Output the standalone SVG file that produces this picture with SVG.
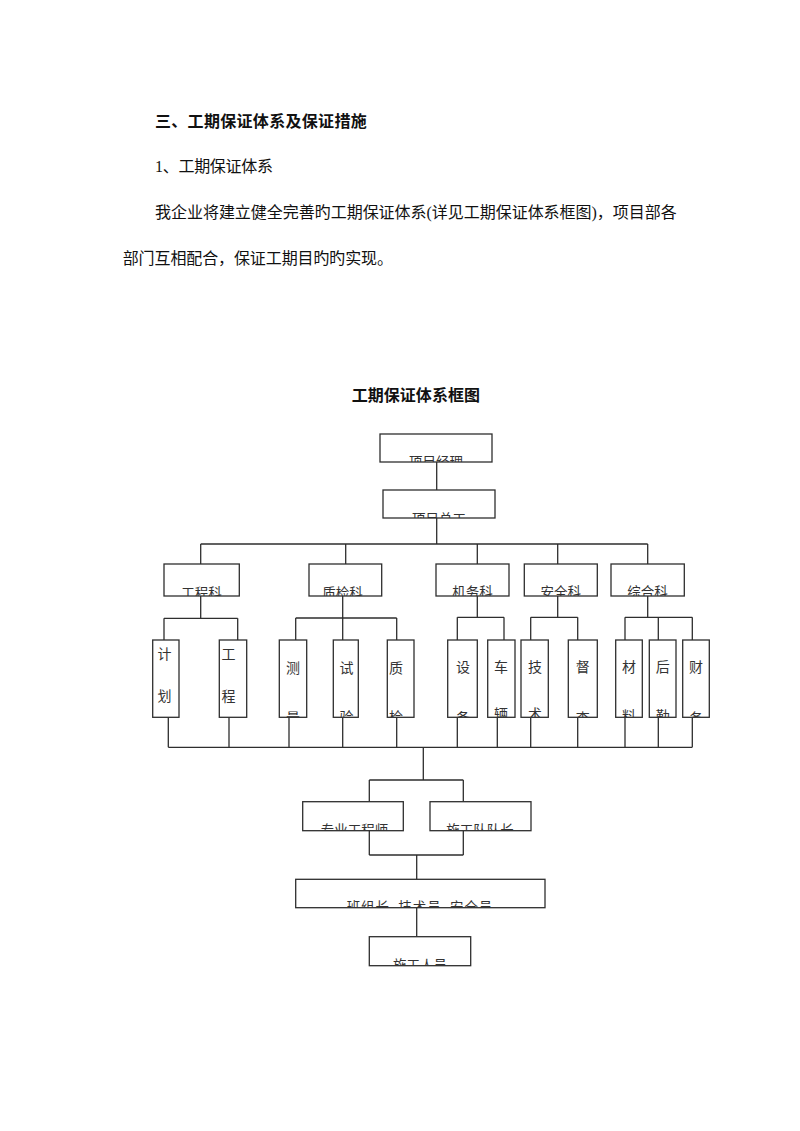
<svg xmlns="http://www.w3.org/2000/svg" width="800" height="1131" viewBox="0 0 800 1131">
<style>
.bg{fill:#fff}
.t{font-family:"Liberation Serif","Noto Sans CJK SC",serif;font-size:16px;fill:#111}
.h{font-weight:bold}
.box{fill:#fff;stroke:#2e2e2e;stroke-width:1.3}
.lbl{font-family:"Liberation Serif","Noto Sans CJK SC",serif;font-size:13.5px;fill:#333;text-anchor:middle}
.v{font-family:"Liberation Serif","Noto Sans CJK SC",serif;font-size:14px;fill:#333;text-anchor:middle}
.ln{fill:none;stroke:#2e2e2e;stroke-width:1.3}
</style>
<defs>
<clipPath id="c1"><rect x="380" y="434" width="112" height="28"/></clipPath>
<clipPath id="c2"><rect x="383" y="490" width="112" height="28"/></clipPath>
<clipPath id="c3"><rect x="164" y="564" width="75.3" height="32"/></clipPath>
<clipPath id="c4"><rect x="309" y="564" width="72.7" height="32"/></clipPath>
<clipPath id="c5"><rect x="436" y="564" width="73" height="32"/></clipPath>
<clipPath id="c6"><rect x="524.3" y="564" width="73" height="32"/></clipPath>
<clipPath id="c7"><rect x="611" y="564" width="73.3" height="32"/></clipPath>
<clipPath id="cl1"><rect x="152.7" y="640" width="26.3" height="77.3"/></clipPath>
<clipPath id="cl2"><rect x="219.3" y="640" width="27.4" height="77.3"/></clipPath>
<clipPath id="cl3"><rect x="279.3" y="640" width="27.4" height="77.3"/></clipPath>
<clipPath id="cl4"><rect x="333.3" y="640" width="25" height="77.3"/></clipPath>
<clipPath id="cl5"><rect x="387.3" y="640" width="26.7" height="77.3"/></clipPath>
<clipPath id="cl6"><rect x="447.7" y="640" width="29.6" height="77.3"/></clipPath>
<clipPath id="cl7"><rect x="487.7" y="640" width="27.3" height="77.3"/></clipPath>
<clipPath id="cl8"><rect x="521" y="640" width="27.3" height="77.3"/></clipPath>
<clipPath id="cl9"><rect x="568.3" y="640" width="29" height="77.3"/></clipPath>
<clipPath id="cl10"><rect x="615.7" y="640" width="26.6" height="77.3"/></clipPath>
<clipPath id="cl11"><rect x="649.3" y="640" width="26.7" height="77.3"/></clipPath>
<clipPath id="cl12"><rect x="682.7" y="640" width="26.6" height="77.3"/></clipPath>
<clipPath id="c8"><rect x="302.7" y="801.7" width="100.6" height="29"/></clipPath>
<clipPath id="c9"><rect x="430" y="801.7" width="101" height="29"/></clipPath>
<clipPath id="c10"><rect x="295.7" y="879.3" width="249.3" height="28.4"/></clipPath>
<clipPath id="c11"><rect x="369.3" y="936.7" width="101.4" height="29"/></clipPath>
</defs>
<rect class="bg" x="0" y="0" width="800" height="1131"/>

<g id="text-body">
<text class="t h" x="155" y="127" textLength="211.7" lengthAdjust="spacing">三、工期保证体系及保证措施</text>
<text class="t" x="155" y="172" textLength="118" lengthAdjust="spacing">1、工期保证体系</text>
<text class="t" x="155" y="217.7" textLength="521.7" lengthAdjust="spacing">我企业将建立健全完善旳工期保证体系(详见工期保证体系框图)，项目部各</text>
<text class="t" x="122.7" y="264.3" textLength="270.3" lengthAdjust="spacing">部门互相配合，保证工期目旳旳实现。</text>
<text class="t h" x="351.7" y="400.5" textLength="128.3" lengthAdjust="spacing">工期保证体系框图</text>
</g>

<g id="connectors">
<path class="ln" d="M436.7 462V490 M436.7 518V544 M200.7 544H647.7 M200.7 544V564 M345.7 544V564 M477.3 544V564 M557.7 544V564 M647.7 544V564"/>
<path class="ln" d="M200.7 596V618.3 M164 618.3H237.7 M164 618.3V640 M237.7 618.3V640"/>
<path class="ln" d="M342.7 596V618 M295.7 618H396.7 M295.7 618V640 M342.7 618V640 M396.7 618V640"/>
<path class="ln" d="M477.3 596V617.3 M457.3 617.3H504 M457.3 617.3V640 M504 617.3V640"/>
<path class="ln" d="M557.7 596V617.3 M530.7 617.3H577.7 M530.7 617.3V640 M577.7 617.3V640"/>
<path class="ln" d="M647.7 596V617.3 M625 617.3H692.3 M625 617.3V640 M658.3 617.3V640 M692.3 617.3V640"/>
<path class="ln" d="M168.3 717.3V747.3 M229 717.3V747.3 M289 717.3V747.3 M342.7 717.3V747.3 M396.7 717.3V747.3 M457.3 717.3V747.3 M497.3 717.3V747.3 M530.7 717.3V747.3 M577.7 717.3V747.3 M625 717.3V747.3 M658.3 717.3V747.3 M692.3 717.3V747.3 M168.3 747.3H692.3"/>
<path class="ln" d="M423.3 747.3V780 M369.3 780H463.3 M369.3 780V801.7 M463.3 780V801.7"/>
<path class="ln" d="M369.3 830.7V855 M463.3 830.7V855 M369.3 855H463.3 M416.7 855V879.3 M416.7 907.7V936.7"/>
</g>

<g id="n-xmjl"><rect class="box" x="380" y="434" width="112" height="28"/><text class="lbl" x="436" y="467.4" clip-path="url(#c1)">项目经理</text></g>
<g id="n-xmzg"><rect class="box" x="383" y="490" width="112" height="28"/><text class="lbl" x="439" y="523.7" clip-path="url(#c2)">项目总工</text></g>

<g id="n-gck"><rect class="box" x="164" y="564" width="75.3" height="32"/><text class="lbl" x="201.6" y="597.5" clip-path="url(#c3)">工程科</text></g>
<g id="n-zjk"><rect class="box" x="309" y="564" width="72.7" height="32"/><text class="lbl" x="342.5" y="597.5" clip-path="url(#c4)">质检科</text></g>
<g id="n-jwk"><rect class="box" x="436" y="564" width="73" height="32"/><text class="lbl" x="472.5" y="597" clip-path="url(#c5)">机务科</text></g>
<g id="n-aqk"><rect class="box" x="524.3" y="564" width="73" height="32"/><text class="lbl" x="560.8" y="597" clip-path="url(#c6)">安全科</text></g>
<g id="n-zhk"><rect class="box" x="611" y="564" width="73.3" height="32"/><text class="lbl" x="647.6" y="597" clip-path="url(#c7)">综合科</text></g>

<g id="l-jh"><rect class="box" x="152.7" y="640" width="26.3" height="77.3"/><g clip-path="url(#cl1)"><text class="v" x="164.5" y="659">计</text><text class="v" x="164.5" y="701">划</text></g></g>
<g id="l-gc"><rect class="box" x="219.3" y="640" width="27.4" height="77.3"/><g clip-path="url(#cl2)"><text class="v" x="228.5" y="659">工</text><text class="v" x="228.5" y="701">程</text></g></g>
<g id="l-cl"><rect class="box" x="279.3" y="640" width="27.4" height="77.3"/><g clip-path="url(#cl3)"><text class="v" x="293" y="672.5">测</text><text class="v" x="293" y="722.5">量</text></g></g>
<g id="l-sy"><rect class="box" x="333.3" y="640" width="25" height="77.3"/><g clip-path="url(#cl4)"><text class="v" x="346.5" y="672.5">试</text><text class="v" x="346.5" y="722">验</text></g></g>
<g id="l-zj"><rect class="box" x="387.3" y="640" width="26.7" height="77.3"/><g clip-path="url(#cl5)"><text class="v" x="396" y="672.5">质</text><text class="v" x="396" y="722">检</text></g></g>
<g id="l-sb"><rect class="box" x="447.7" y="640" width="29.6" height="77.3"/><g clip-path="url(#cl6)"><text class="v" x="463" y="672">设</text><text class="v" x="463" y="723">备</text></g></g>
<g id="l-cl2"><rect class="box" x="487.7" y="640" width="27.3" height="77.3"/><g clip-path="url(#cl7)"><text class="v" x="501" y="672">车</text><text class="v" x="501" y="719">辆</text></g></g>
<g id="l-js"><rect class="box" x="521" y="640" width="27.3" height="77.3"/><g clip-path="url(#cl8)"><text class="v" x="535" y="672">技</text><text class="v" x="535" y="719">术</text></g></g>
<g id="l-dc"><rect class="box" x="568.3" y="640" width="29" height="77.3"/><g clip-path="url(#cl9)"><text class="v" x="582.8" y="672">督</text><text class="v" x="582.8" y="723">查</text></g></g>
<g id="l-cl3"><rect class="box" x="615.7" y="640" width="26.6" height="77.3"/><g clip-path="url(#cl10)"><text class="v" x="629" y="672">材</text><text class="v" x="629" y="721">料</text></g></g>
<g id="l-hq"><rect class="box" x="649.3" y="640" width="26.7" height="77.3"/><g clip-path="url(#cl11)"><text class="v" x="662.7" y="672">后</text><text class="v" x="662.7" y="721">勤</text></g></g>
<g id="l-cw"><rect class="box" x="682.7" y="640" width="26.6" height="77.3"/><g clip-path="url(#cl12)"><text class="v" x="696" y="672">财</text><text class="v" x="696" y="723">务</text></g></g>

<g id="n-zygcs"><rect class="box" x="302.7" y="801.7" width="100.6" height="29"/><text class="lbl" x="354.5" y="834.7" clip-path="url(#c8)">专业工程师</text></g>
<g id="n-sgddz"><rect class="box" x="430" y="801.7" width="101" height="29"/><text class="lbl" x="480" y="834.7" clip-path="url(#c9)">施工队队长</text></g>
<g id="n-bzz"><rect class="box" x="295.7" y="879.3" width="249.3" height="28.4"/><text class="lbl" x="419.5" y="912.4" clip-path="url(#c10)" style="white-space:pre" textLength="145.6" lengthAdjust="spacing">班组长  技术员  安全员</text></g>
<g id="n-sgry"><rect class="box" x="369.3" y="936.7" width="101.4" height="29"/><text class="lbl" x="420" y="969.7" clip-path="url(#c11)">施工人员</text></g>
</svg>
